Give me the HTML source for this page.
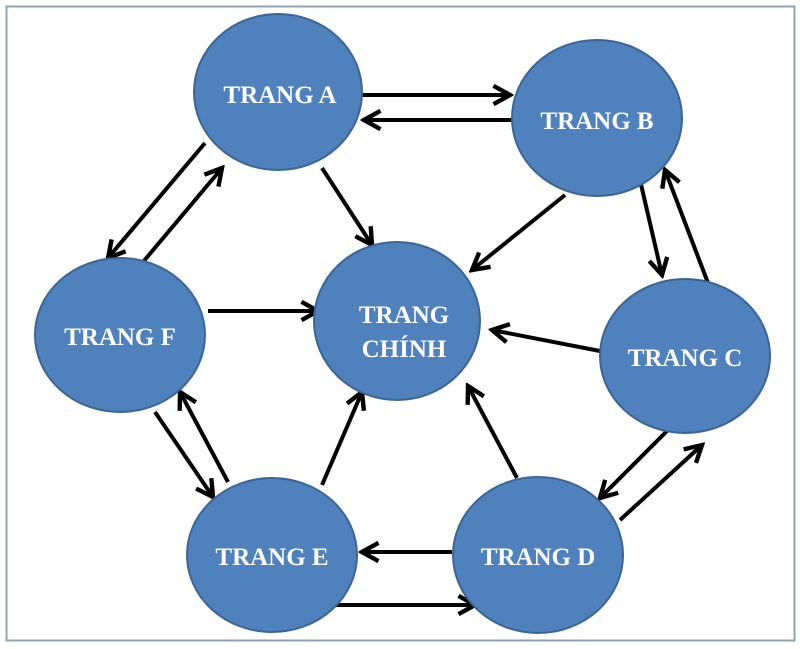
<!DOCTYPE html>
<html><head><meta charset="utf-8"><style>
html,body{margin:0;padding:0;background:#fff;}
svg{display:block}
text{font-family:"Liberation Serif",serif;font-weight:bold;fill:#fff;font-size:25px;text-anchor:middle}
</style></head><body>
<svg width="800" height="649" viewBox="0 0 800 649" xmlns="http://www.w3.org/2000/svg">
<defs>
<marker id="ah" viewBox="0 0 12 12" refX="10" refY="6" markerWidth="5.5" markerHeight="5.5" orient="auto" markerUnits="strokeWidth">
<path d="M1,1 L10,6 L1,11" fill="none" stroke="#000" stroke-width="2.4"/>
</marker>
</defs>
<rect x="6.5" y="6.5" width="788" height="634" fill="#fff" stroke="#8fa3b3" stroke-width="2"/>
<g stroke="#000" stroke-width="4" fill="none" marker-end="url(#ah)">
<line x1="362" y1="95" x2="510" y2="95"/>
<line x1="515" y1="120" x2="364" y2="120"/>
<line x1="322" y1="168" x2="372" y2="245"/>
<line x1="565" y1="195" x2="472" y2="270"/>
<line x1="640" y1="180" x2="662" y2="275"/>
<line x1="708" y1="283" x2="665" y2="170"/>
<line x1="605" y1="352" x2="492" y2="330"/>
<line x1="668" y1="430" x2="600" y2="498"/>
<line x1="620" y1="520" x2="702" y2="445"/>
<line x1="517" y1="478" x2="468" y2="386"/>
<line x1="452" y1="552" x2="362" y2="552"/>
<line x1="330" y1="605" x2="475" y2="605"/>
<line x1="322" y1="485" x2="362" y2="392"/>
<line x1="208" y1="311" x2="318" y2="311"/>
<line x1="155" y1="412" x2="213" y2="497"/>
<line x1="228" y1="482" x2="180" y2="392"/>
<line x1="205" y1="143" x2="108" y2="258"/>
<line x1="143" y1="262" x2="222" y2="168"/>
</g>
<g fill="#4f81bd" stroke="#3a6596" stroke-width="2">
<ellipse cx="278" cy="92" rx="84" ry="78"/>
<ellipse cx="597" cy="118" rx="85" ry="78"/>
<ellipse cx="685" cy="356" rx="85" ry="77"/>
<ellipse cx="538" cy="555" rx="85" ry="78"/>
<ellipse cx="272" cy="555" rx="85" ry="77"/>
<ellipse cx="120" cy="335" rx="85" ry="77"/>
<ellipse cx="397" cy="321" rx="83" ry="79"/>
</g>
<text x="280" y="103">TRANG A</text>
<text x="597" y="129">TRANG B</text>
<text x="685" y="366">TRANG C</text>
<text x="538" y="565">TRANG D</text>
<text x="272" y="565">TRANG E</text>
<text x="120" y="345">TRANG F</text>
<text x="404" y="323">TRANG</text>
<text x="404" y="357">CHÍNH</text>
</svg>
</body></html>
